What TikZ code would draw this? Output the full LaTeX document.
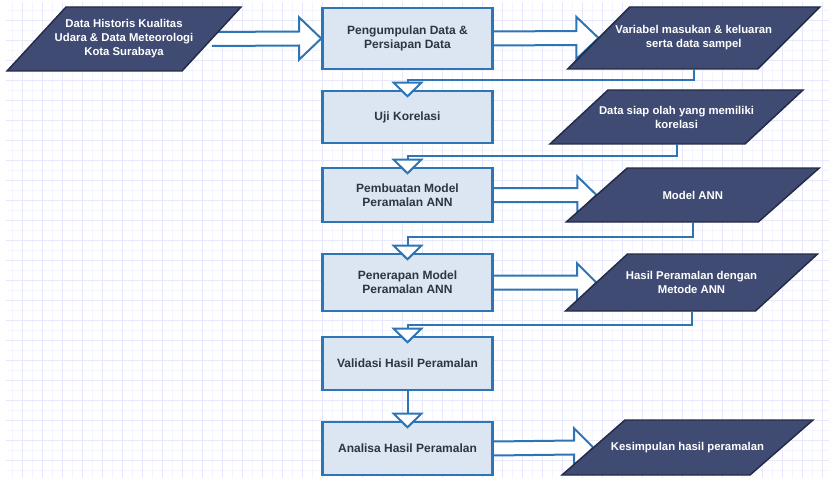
\documentclass[tikz,border=0pt]{standalone}
\usepackage{fontspec}
\setmainfont{Liberation Sans}
\usetikzlibrary{arrows.meta,calc}

\definecolor{boxfill}{RGB}{220,230,242}
\definecolor{boxline}{RGB}{46,117,182}
\definecolor{parafill}{RGB}{64,75,115}
\definecolor{paraline}{RGB}{36,43,70}
\definecolor{boxtext}{RGB}{45,52,66}
\definecolor{gridmajor}{RGB}{232,232,251}
\definecolor{gridminor}{RGB}{245,245,253}

\pgfdeclarelayer{gridlayer}
\pgfdeclarelayer{arrowlayer}
\pgfsetlayers{gridlayer,arrowlayer,main}

% data (parallelogram) node: name, cx, cy, mean width, height, slant, text
\newcommand\paranode[7]{%
  \filldraw[parashape]
    (#2-#4/2+#6/2, #3-#5/2) -- (#2+#4/2+#6/2, #3-#5/2) --
    (#2+#4/2-#6/2, #3+#5/2) -- (#2-#4/2-#6/2, #3+#5/2) -- cycle;
  \node[paratext, minimum width=#4*0.75pt, minimum height=#5*0.75pt] (#1) at (#2,#3) {#7};
}

% hollow block arrow: from, to, head length, head half width
\newcommand\blockarrow[4]{%
  \filldraw[blockstyle]
    ($(#1)+(0,-7)$) -- ($(#2)+(-#3,-7)$) -- ($(#2)+(-#3,-#4)$) -- (#2) --
    ($(#2)+(-#3,#4)$) -- ($(#2)+(-#3,7)$) -- ($(#1)+(0,7)$);
}

\begin{document}
\begin{tikzpicture}[x=0.75pt,y=-0.75pt,
  stepbox/.style={rectangle, draw=boxline, fill=boxfill, line width=1.9pt,
    minimum width=127.5pt, inner sep=0pt, align=center, text=boxtext,
    font=\fontsize{9}{10.5}\selectfont\bfseries},
  parashape/.style={fill=parafill, draw=paraline, line width=1.1pt, line join=miter},
  paratext/.style={rectangle, inner sep=0pt, align=center, text=white,
    font=\fontsize{8.5}{10.5}\selectfont\bfseries},
  blockstyle/.style={fill=white, draw=boxline, line width=1.5pt},
  conn/.style={draw=boxline, line width=1.5pt,
    -{Triangle[length=12pt, width=24pt, fill=white, line join=miter]}}
]
\useasboundingbox (0,0) rectangle (829,478);

% paper grid
\begin{pgfonlayer}{gridlayer}
  \fill[white] (0,0) rectangle (829,478);
  \begin{scope}
    \clip (6,3) rectangle (829,478);
    \foreach \gx in {12,32,...,832} \draw[gridminor, line width=0.6pt] (\gx,0) -- (\gx,478);
    \foreach \gy in {10.7,30.7,...,480} \draw[gridminor, line width=0.6pt] (0,\gy) -- (829,\gy);
    \foreach \gx in {2,22,...,832} \draw[gridmajor, line width=0.75pt] (\gx,0) -- (\gx,478);
    \foreach \gy in {0.7,20.7,...,480} \draw[gridmajor, line width=0.75pt] (0,\gy) -- (829,\gy);
  \end{scope}
\end{pgfonlayer}

% process steps
\node[stepbox, minimum height=45.75pt] (b1) at (407.5,38.5) {Pengumpulan Data \&\\Persiapan Data};
\node[stepbox, minimum height=39pt]    (b2) at (407.5,117)  {Uji Korelasi};
\node[stepbox, minimum height=40.5pt]  (b3) at (407.5,195)  {Pembuatan Model\\Peramalan ANN};
\node[stepbox, minimum height=42.75pt] (b4) at (407.5,282.5) {Penerapan Model\\Peramalan ANN};
\node[stepbox, minimum height=39.75pt] (b5) at (407.5,363.5) {Validasi Hasil Peramalan};
\node[stepbox, minimum height=39.75pt] (b6) at (407.5,448.5) {Analisa Hasil Peramalan};

% data items
\paranode{p1}{124}{39}{175}{64}{59}{Data Historis Kualitas\\Udara \& Data Meteorologi\\Kota Surabaya}
\paranode{p2}{693.75}{38}{190}{62}{62}{Variabel masukan \& keluaran\\serta data sampel}
\paranode{p3}{676.5}{117}{195}{54}{58}{Data siap olah yang memiliki\\korelasi}
\paranode{p4}{692.75}{195}{192}{54}{61}{Model ANN}
\paranode{p5}{691.5}{282.5}{190}{57}{62}{Hasil Peramalan dengan\\Metode ANN}
\paranode{p6}{687.5}{447.5}{188}{55}{63}{Kesimpulan hasil peramalan}

% block arrows (beneath the shapes)
\begin{pgfonlayer}{arrowlayer}
  \blockarrow{p1.east}{b1.west}{22}{21}
  \blockarrow{b1.east}{p2.west}{22}{21}
  \blockarrow{b3.east}{p4.west}{19}{18.5}
  \blockarrow{b4.east}{p5.west}{19}{19}
  \blockarrow{b6.east}{p6.west}{19}{19}
\end{pgfonlayer}

% elbow connectors into the next step
\draw[conn] (p2.south) -- ++(0,11) -| ($(b2.north)+(0,8)$);
\draw[conn] (p3.south) -- ++(0,12) -| ($(b3.north)+(0,8)$);
\draw[conn] (p4.south) -- ++(0,15) -| ($(b4.north)+(0,8)$);
\draw[conn] (p5.south) -- ++(0,14) -| ($(b5.north)+(0,8)$);
\draw[conn] (b5.south) -- ($(b6.north)+(0,8)$);
\end{tikzpicture}
\end{document}
